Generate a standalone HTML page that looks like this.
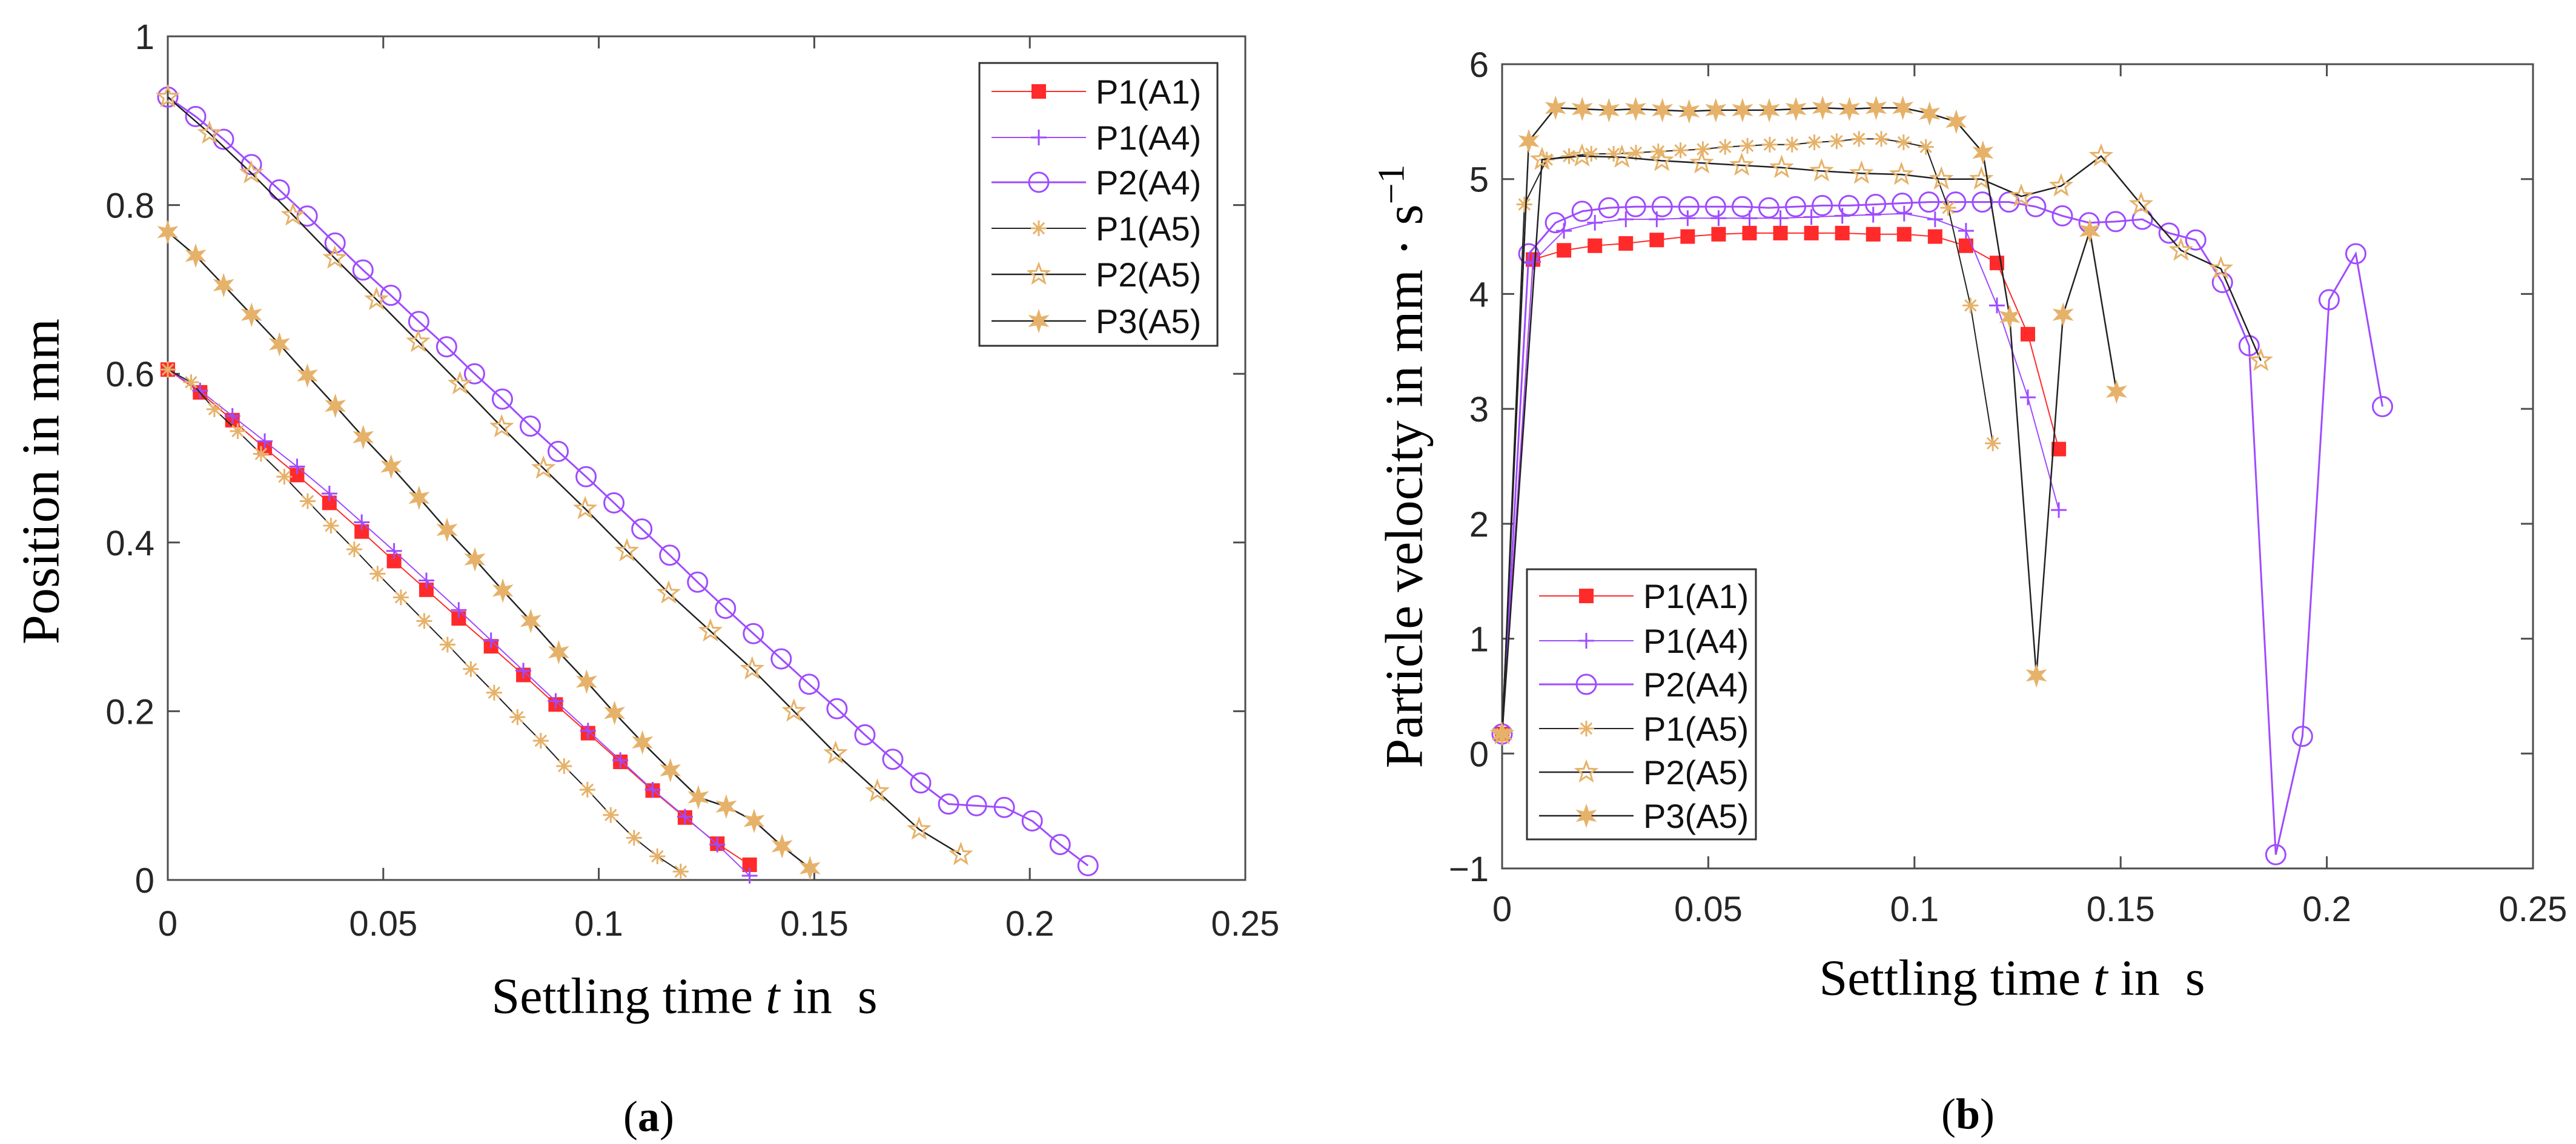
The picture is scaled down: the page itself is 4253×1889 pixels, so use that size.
<!DOCTYPE html>
<html><head><meta charset="utf-8">
<style>
html,body{margin:0;padding:0;background:#fff;}
svg{display:block;}
</style></head>
<body>
<svg id="fig" width="4253" height="1889" viewBox="0 0 4253 1889" xmlns="http://www.w3.org/2000/svg">
<rect width="4253" height="1889" fill="#fff"/>
<g id="pa"></g>
<g id="pb"></g>
</svg>
<script>
// ---- data: position chart (a) ----
const posA1 = [0.605,0.578,0.545,0.512,0.48,0.447,0.413,0.378,0.344,0.31,0.277,0.243,0.208,0.174,0.14,0.106,0.074,0.043,0.018];
const posA1t = 0.135;
const posP1A4 = [0.605,0.58,0.55,0.52,0.49,0.458,0.424,0.39,0.355,0.32,0.284,0.248,0.212,0.177,0.142,0.107,0.075,0.042,0.005];
const posP1A4t = 0.135;
const posP2A4 = [0.928,0.905,0.878,0.848,0.818,0.787,0.755,0.723,0.693,0.662,0.632,0.6,0.57,0.538,0.508,0.478,0.447,0.416,0.385,0.353,0.322,0.292,0.262,0.232,0.203,0.172,0.143,0.115,0.09,0.088,0.086,0.07,0.042,0.017];
const posP2A4t = 0.2135;
const posP1A5 = [0.605,0.59,0.558,0.532,0.505,0.478,0.449,0.42,0.392,0.363,0.335,0.307,0.279,0.25,0.222,0.193,0.165,0.135,0.107,0.077,0.05,0.028,0.01];
const posP1A5t = 0.119;
const posP2A5 = [0.928,0.885,0.838,0.788,0.737,0.688,0.638,0.588,0.537,0.488,0.44,0.39,0.34,0.295,0.25,0.2,0.15,0.105,0.06,0.03];
const posP2A5t = 0.184;
const posP3A5 = [0.768,0.74,0.705,0.67,0.635,0.598,0.562,0.525,0.49,0.453,0.415,0.38,0.343,0.307,0.27,0.235,0.198,0.163,0.13,0.098,0.087,0.07,0.04,0.014];
const posP3A5t = 0.149;
// ---- data: velocity chart (b) ----
const velA1 = [0.17,4.3,4.38,4.42,4.44,4.47,4.5,4.52,4.53,4.53,4.53,4.53,4.52,4.52,4.5,4.42,4.27,3.65,2.65];
const velP1A4 = [0.17,4.28,4.55,4.62,4.65,4.65,4.66,4.66,4.66,4.66,4.67,4.68,4.69,4.7,4.65,4.55,3.9,3.1,2.12];
const velP2A4 = [0.17,4.35,4.62,4.72,4.75,4.76,4.76,4.76,4.76,4.76,4.75,4.76,4.77,4.77,4.78,4.79,4.8,4.8,4.8,4.8,4.76,4.68,4.62,4.63,4.65,4.53,4.47,4.1,3.55,-0.88,0.15,3.95,4.35,3.02];
const velP1A5 = [0.17,4.78,5.17,5.2,5.22,5.22,5.23,5.24,5.25,5.26,5.28,5.29,5.3,5.3,5.32,5.33,5.35,5.35,5.32,5.28,4.75,3.9,2.7];
const velP2A5 = [0.17,5.17,5.2,5.19,5.16,5.14,5.12,5.1,5.07,5.05,5.04,5.0,5.0,4.85,4.94,5.2,4.78,4.38,4.22,3.42];
const velP3A5 = [0.17,5.33,5.62,5.61,5.6,5.61,5.6,5.59,5.6,5.6,5.6,5.61,5.62,5.61,5.62,5.62,5.57,5.5,5.23,3.8,0.68,3.82,4.55,3.15];
const xTicks = [0,0.05,0.1,0.15,0.2,0.25];
const xTickLabels = ["0","0.05","0.1","0.15","0.2","0.25"];
const yTicksA = [0,0.2,0.4,0.6,0.8,1];
const yTickLabelsA = ["0","0.2","0.4","0.6","0.8","1"];
const yTicksB = [-1,0,1,2,3,4,5,6];
const yTickLabelsB = ["\u22121","0","1","2","3","4","5","6"];
const seriesNames = ["P1(A1)","P1(A4)","P2(A4)","P1(A5)","P2(A5)","P3(A5)"];

const NS="http://www.w3.org/2000/svg";
const RED="#ff2a2a", PUR="#9f4bff", TAN="#e6b26a", BLK="#222";
function mk(tag, parent, attrs){const e=document.createElementNS(NS,tag);for(const k in attrs)e.setAttribute(k,attrs[k]);parent.appendChild(e);return e;}
function starPts(cx,cy,R,r,n){let p=[];for(let i=0;i<2*n;i++){const a=-Math.PI/2+i*Math.PI/n;const rr=i%2?r:R;p.push((cx+rr*Math.cos(a)).toFixed(1)+","+(cy+rr*Math.sin(a)).toFixed(1));}return p.join(" ");}
function marker(g,type,x,y){
  let e;
  if(type==="square"){e=mk("rect",g,{x:x-12,y:y-12,width:24,height:24,fill:RED});}
  else if(type==="plus"){e=mk("path",g,{d:`M${x-13},${y}H${x+13}M${x},${y-13}V${y+13}`,stroke:PUR,"stroke-width":3,fill:"none"});}
  else if(type==="circle"){e=mk("circle",g,{cx:x,cy:y,r:16,fill:"none",stroke:PUR,"stroke-width":3});}
  else if(type==="aster"){let d="";for(let i=0;i<4;i++){const a=i*Math.PI/4;d+=`M${x-13*Math.cos(a)},${y-13*Math.sin(a)}L${x+13*Math.cos(a)},${y+13*Math.sin(a)}`;}e=mk("path",g,{d:d,stroke:TAN,"stroke-width":3,fill:"none"});}
  else if(type==="ostar"){e=mk("polygon",g,{points:starPts(x,y,17,7,5),fill:"none",stroke:TAN,"stroke-width":3});}
  else if(type==="fstar"){e=mk("polygon",g,{points:starPts(x,y,17,7,6),fill:TAN,stroke:TAN,"stroke-width":2});}
  
  
}
function drawChart(root,cfg){
  const {L,R,T,B,yMin,yMax,yTicks,yLabels}=cfg;
  const sx=t=>L+(t-0)/(0.25)*(R-L);
  const sy=v=>B-(v-yMin)/(yMax-yMin)*(B-T);
  // axes
  const ax=mk("rect",root,{x:L,y:T,width:R-L,height:B-T,fill:"none",stroke:"#4d4d4d","stroke-width":3});
  
  
  xTicks.forEach((t,i)=>{const x=sx(t);
    mk("path",root,{d:`M${x},${B}v-20M${x},${T}v20`,stroke:"#4d4d4d","stroke-width":3});
    const tx=mk("text",root,{x:x,y:cfg.xlabY,"text-anchor":"middle","font-family":"Liberation Sans, sans-serif","font-size":58,fill:"#262626"});
    tx.textContent=xTickLabels[i];
    
    
  });
  yTicks.forEach((v,i)=>{const y=sy(v);
    mk("path",root,{d:`M${L},${y}h20M${R},${y}h-20`,stroke:"#4d4d4d","stroke-width":3});
    const tx=mk("text",root,{x:L-22,y:y+21,"text-anchor":"end","font-family":"Liberation Sans, sans-serif","font-size":58,fill:"#262626"});
    tx.textContent=yLabels[i];
    
    
  });
  const styles=[[RED,"square",2],[PUR,"plus",2],[PUR,"circle",3],[BLK,"aster",2],[BLK,"ostar",2.5],[BLK,"fstar",2.5]];
  cfg.series.forEach((s,i)=>{
    const g=mk("g",root,{});
    
    
    const n=s.vals.length;const step=s.tEnd/(n-1);
    const pts=s.vals.map((v,k)=>[sx(k*step),sy(v)]);
    mk("polyline",g,{points:pts.map(p=>p.join(",")).join(" "),fill:"none",stroke:styles[i][0],"stroke-width":styles[i][2]});
    pts.forEach(p=>marker(g,styles[i][1],p[0],p[1]));
  });
  // legend
  const lg=mk("g",root,{});
  
  
  const box=mk("rect",lg,{x:cfg.lg.x,y:cfg.lg.y,width:cfg.lg.w,height:cfg.lg.h,fill:"#fff",stroke:"#333","stroke-width":3});
  seriesNames.forEach((nm,i)=>{
    const y=cfg.lg.rows[i];const x0=cfg.lg.x+20,x1=x0+156;
    const e=mk("g",lg,{});
    
    
    mk("path",e,{d:`M${x0},${y}H${x1}`,stroke:styles[i][0],"stroke-width":styles[i][2]});
    marker(e,styles[i][1],(x0+x1)/2,y);
    const t=mk("text",e,{x:x1+16,y:y+20,"font-family":"Liberation Sans, sans-serif","font-size":56,fill:"#111"});
    t.textContent=nm;
  });
}
const pa=document.getElementById("pa"), pb=document.getElementById("pb");
drawChart(pa,{L:277,R:2056,T:60,B:1453,yMin:0,yMax:1,yTicks:yTicksA,yLabels:yTickLabelsA,xlabY:1545,
  series:[{vals:posA1,tEnd:posA1t},{vals:posP1A4,tEnd:posP1A4t},{vals:posP2A4,tEnd:posP2A4t},{vals:posP1A5,tEnd:posP1A5t},{vals:posP2A5,tEnd:posP2A5t},{vals:posP3A5,tEnd:posP3A5t}],
  lg:{x:1617,y:104,w:393,h:467,rows:[151,227,301,377,453,530]}});
drawChart(pb,{L:2480,R:4182,T:106,B:1434,yMin:-1,yMax:6,yTicks:yTicksB,yLabels:yTickLabelsB,xlabY:1521,
  series:[{vals:velA1,tEnd:posA1t},{vals:velP1A4,tEnd:posP1A4t},{vals:velP2A4,tEnd:posP2A4t},{vals:velP1A5,tEnd:posP1A5t},{vals:velP2A5,tEnd:posP2A5t},{vals:velP3A5,tEnd:posP3A5t}],
  lg:{x:2521,y:940,w:378,h:446,rows:[984,1058,1130,1203,1275,1347]}});
</script>
<svg width="0" height="0"></svg>
<div style="position:absolute;left:0;top:0;width:4253px;height:1889px;pointer-events:none;font-family:'Liberation Serif',serif;color:#000;">
  <div style="position:absolute;left:68px;top:795px;transform:translate(-50%,-50%) rotate(-90deg);font-size:88px;white-space:nowrap;">Position in mm</div>
  <div style="position:absolute;left:1130px;top:1645px;transform:translate(-50%,-50%);font-size:84px;white-space:nowrap;">Settling time <i>t</i> in&nbsp; s</div>
  <div style="position:absolute;left:1071px;top:1844px;transform:translate(-50%,-50%);font-size:72px;">(<b>a</b>)</div>
  <div style="position:absolute;left:2316px;top:770px;transform:translate(-50%,-50%) rotate(-90deg);font-size:88px;white-space:nowrap;">Particle velocity in mm · s<sup style="font-size:62px;">−1</sup></div>
  <div style="position:absolute;left:3322px;top:1615px;transform:translate(-50%,-50%);font-size:84px;white-space:nowrap;">Settling time <i>t</i> in&nbsp; s</div>
  <div style="position:absolute;left:3249px;top:1840px;transform:translate(-50%,-50%);font-size:72px;">(<b>b</b>)</div>
</div>
</body></html>
